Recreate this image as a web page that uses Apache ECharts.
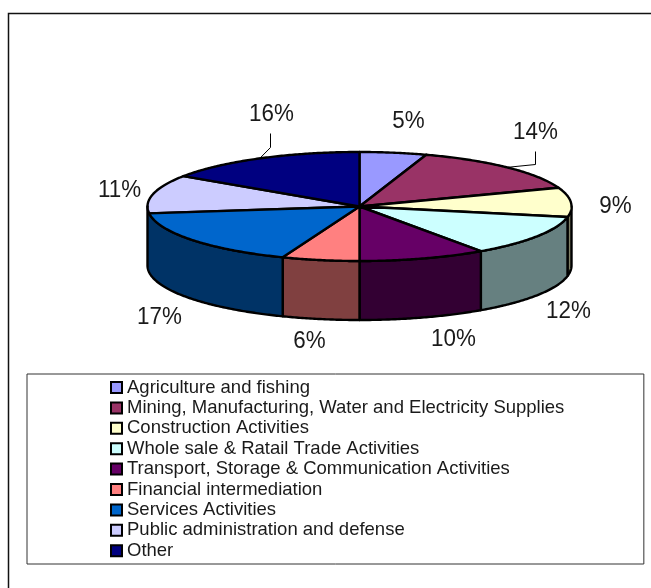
<!DOCTYPE html>
<html><head><meta charset="utf-8">
<style>html,body{margin:0;padding:0;background:#fff}#c{width:651px;height:588px}</style>
<script src="https://cdn.jsdelivr.net/npm/echarts@6/dist/echarts.min.js"></script>
</head><body><div id="c"></div>
<script>
const categories = ['Agriculture and fishing','Mining, Manufacturing, Water and Electricity Supplies','Construction Activities','Whole sale & Ratail Trade Activities','Transport, Storage & Communication Activities','Financial intermediation','Services Activities','Public administration and defense','Other'];
const shares = [5.1,14.3,8.7,12.2,9.7,5.9,17.1,11.4,15.6];
const topColors = ['#9999FF','#993366','#FFFFCC','#CCFFFF','#660066','#FF8080','#0066CC','#CCCCFF','#000080'];
const wallColors = ['#4C4C80','#4C1A33','#808066','#668080','#330033','#804040','#003366','#666680','#000040'];

// Layout (not data)
const pie = {cx:359.5, cy:206.5, rx:212, ry:54.5, depth:59};
const labelOffsets = [[49,-85],[176,-74],[256,0],[209,105],[94,133],[-50,135],[-200,111],[-240,-16],[-88,-92]];
const leaderElbows = {1:[[176,-42],[176,-55]], 8:[[-89,-59],[-89,-73]]};
const total = shares.reduce((a,b)=>a+b,0);
const starts = shares.reduce((acc,v,i)=>{acc.push(acc[i]+v);return acc;},[0]);
const toAngle = s => s/total*Math.PI*2;
const pt = (a,dy=0)=>[pie.cx+pie.rx*Math.sin(a), pie.cy-pie.ry*Math.cos(a)+dy];
function arc(a0,a1,dy=0){const n=Math.max(2,Math.ceil((a1-a0)/0.01));const p=[];for(let i=0;i<=n;i++)p.push(pt(a0+(a1-a0)*i/n,dy));return p;}

function renderSlice(i){
  return function(params,api){
    const a0=toAngle(starts[i]), a1=toAngle(starts[i]+api.value(0));
    const children=[];
    const wallLo=Math.max(a0,Math.PI/2);
    let wallHi=Math.min(a1,Math.PI*1.5);
    if(i===6) wallHi=Math.PI*1.5; // the Services wall wraps the left edge in the reference
    if(wallHi>wallLo && i!==7){
      const upper=arc(wallLo,wallHi), lower=arc(wallLo,wallHi,pie.depth).reverse();
      children.push({type:'polygon',z2:1,shape:{points:upper.concat(lower)},style:{fill:wallColors[i],stroke:'#000',lineWidth:2.4,lineJoin:'round'}});
    }
    children.push({type:'polygon',z2:5,shape:{points:[[pie.cx,pie.cy]].concat(arc(a0,a1))},style:{fill:topColors[i],stroke:'#000',lineWidth:2.4,lineJoin:'round'}});
    const lo2=labelOffsets[i];
    children.push({type:'text',z2:10,x:pie.cx+lo2[0],y:pie.cy+lo2[1],scaleY:1.1,style:{text:Math.round(api.value(0)/total*100)+'%',font:'22.4px "Liberation Sans",Arial,sans-serif',fill:'#1a1a1a',align:'center',verticalAlign:'middle'}});
    if(leaderElbows[i]){
      const start=pt((a0+a1)/2);
      const pts=[start].concat(leaderElbows[i].map(o=>[pie.cx+o[0],pie.cy+o[1]]));
      children.push({type:'polyline',z2:4,shape:{points:pts},style:{fill:'none',stroke:'#000',lineWidth:1}});
    }
    return {type:'group',children};
  };
}

const chart=echarts.init(document.getElementById('c'),null,{renderer:'canvas'});
chart.setOption({
  animation:false,
  backgroundColor:'#fff',
  legend:{
    data:categories,orient:'vertical',left:27,top:374,
    padding:[4,79.5,3.8,83],
    backgroundColor:'#fff',borderColor:'#333',borderWidth:1,borderRadius:0,
    icon:'rect',itemWidth:11,itemHeight:11,itemGap:1.4,selectedMode:false,
    itemStyle:{borderColor:'#000',borderWidth:2},
    textStyle:{fontFamily:'"Liberation Sans",Arial,sans-serif',fontSize:18.5,color:'#1a1a1a',padding:[0,0,0,0],lineHeight:18}
  },
  graphic:[{type:'polyline',silent:true,shape:{points:[[8.5,600],[8.5,13.5],[660,13.5]]},style:{fill:'none',stroke:'#111',lineWidth:1.5}}],
  series:categories.map((name,i)=>({
    type:'custom',name,coordinateSystem:'none',silent:true,
    z:i===7?1:2,
    itemStyle:{color:topColors[i]},
    data:[[shares[i]]],
    renderItem:renderSlice(i)
  }))
});
</script></body></html>
